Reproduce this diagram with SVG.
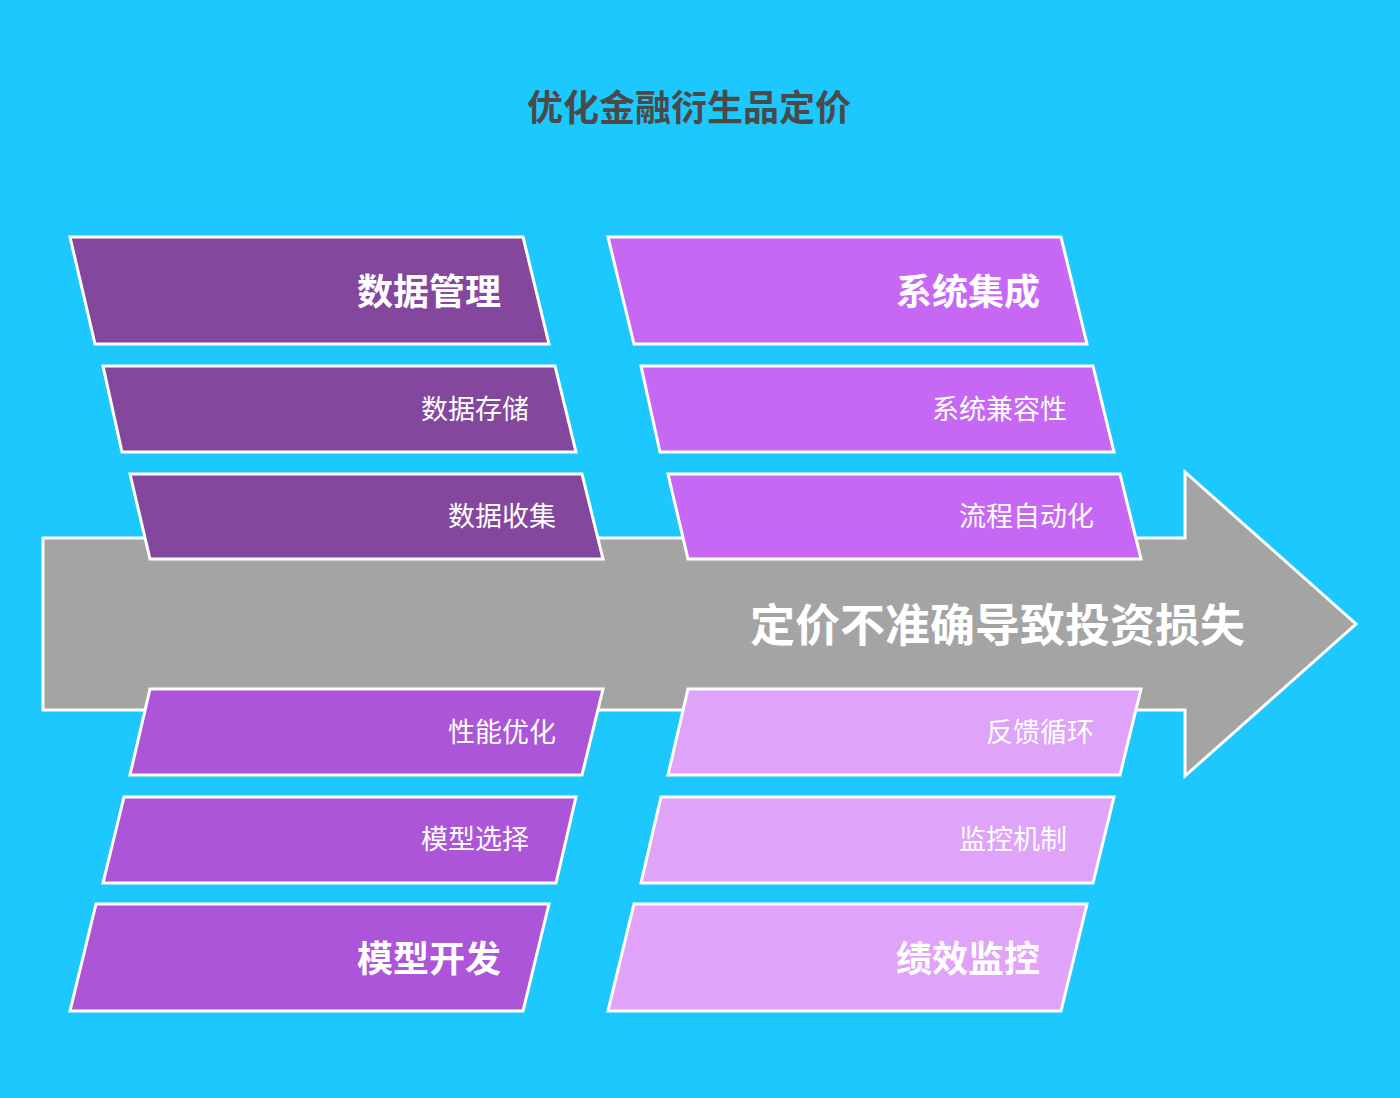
<svg xmlns="http://www.w3.org/2000/svg" width="1400" height="1098" viewBox="0 0 1400 1098">
<defs>
<style>
.bg{fill:#1CC8FE}
.box{stroke:#FFFFFF;stroke-width:3;stroke-linejoin:miter}
.c1{fill:#83479D}
.c2{fill:#C768F5}
.c3{fill:#AD55D8}
.c4{fill:#E0A3FA}
.h{font-family:"Noto Sans CJK SC","Noto Sans",sans-serif;font-weight:bold;font-size:36px;fill:#FFFFFF;text-anchor:end;dominant-baseline:central}
.s{font-family:"Noto Sans CJK SC","Noto Sans",sans-serif;font-weight:normal;font-size:27px;fill:#FFFFFF;text-anchor:end;dominant-baseline:central}
</style>
</defs>
<rect class="bg" x="0" y="0" width="1400" height="1098"/>
<text x="689" y="105" font-family="'Noto Sans CJK SC','Noto Sans',sans-serif" font-weight="bold" font-size="36" fill="#4A4A4A" text-anchor="middle" dominant-baseline="central">优化金融衍生品定价</text>
<g id="connectors">
<polygon id="spine" points="43,538 1185,538 1185,472 1356,624 1185,776 1185,710 43,710" fill="#A4A4A4" stroke="#FFFFFF" stroke-width="3"/>
</g>
<g id="problem">
<text x="1245" y="622" font-family="'Noto Sans CJK SC','Noto Sans',sans-serif" font-weight="bold" font-size="45" fill="#FFFFFF" text-anchor="end" dominant-baseline="central">定价不准确导致投资损失</text>
</g>
<g id="n-data-mgmt">
<polygon class="box c1" points="70,237 523,237 549,344 95,344"/>
<text class="h" x="501" y="289">数据管理</text>
</g>
<g id="n-data-store">
<polygon class="box c1" points="103,366 555,366 576,452 122,452"/>
<text class="s" x="529" y="407">数据存储</text>
</g>
<g id="n-data-collect">
<polygon class="box c1" points="130,474 582,474 603,559 150,559"/>
<text class="s" x="556" y="514">数据收集</text>
</g>
<g id="n-perf">
<polygon class="box c3" points="150,689 603,689 582,775 130,775"/>
<text class="s" x="556" y="730">性能优化</text>
</g>
<g id="n-model-select">
<polygon class="box c3" points="124,797 576,797 556,883 103,883"/>
<text class="s" x="529" y="837">模型选择</text>
</g>
<g id="n-model-dev">
<polygon class="box c3" points="96,904 549,904 523,1011 70,1011"/>
<text class="h" x="501" y="956">模型开发</text>
</g>
<g id="n-sys-int">
<polygon class="box c2" points="608,237 1061,237 1087,344 634,344"/>
<text class="h" x="1040" y="289">系统集成</text>
</g>
<g id="n-sys-compat">
<polygon class="box c2" points="641,366 1093,366 1114,452 660,452"/>
<text class="s" x="1067" y="407">系统兼容性</text>
</g>
<g id="n-process-auto">
<polygon class="box c2" points="668,474 1120,474 1141,559 688,559"/>
<text class="s" x="1094" y="514">流程自动化</text>
</g>
<g id="n-feedback">
<polygon class="box c4" points="688,689 1141,689 1120,775 668,775"/>
<text class="s" x="1094" y="730">反馈循环</text>
</g>
<g id="n-monitor-mech">
<polygon class="box c4" points="661,797 1114,797 1093,883 641,883"/>
<text class="s" x="1067" y="837">监控机制</text>
</g>
<g id="n-perf-monitor">
<polygon class="box c4" points="634,904 1087,904 1061,1011 608,1011"/>
<text class="h" x="1040" y="956">绩效监控</text>
</g>
</svg>
